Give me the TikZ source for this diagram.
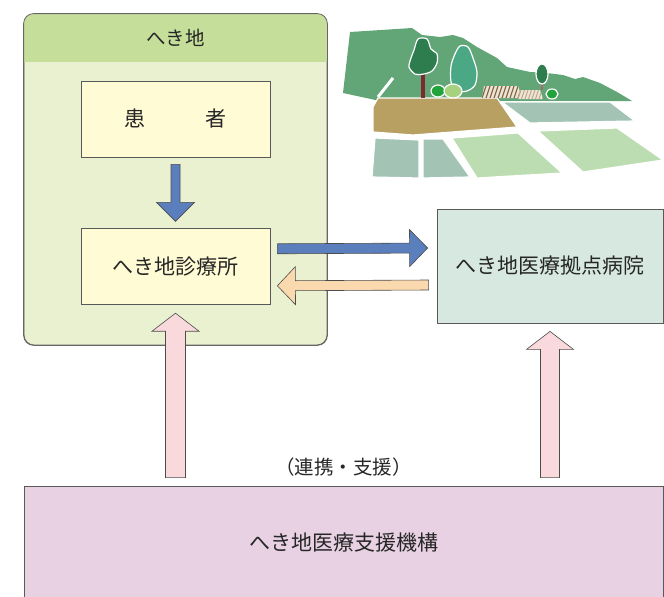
\documentclass[tikz,border=0pt]{standalone}
\usepackage{fontspec}
\setmainfont{Noto Sans CJK JP}
\usetikzlibrary{positioning,calc}
\definecolor{hdrgreen}{HTML}{C5DF9B}
\definecolor{areagreen}{HTML}{EAF1D1}
\definecolor{boxyellow}{HTML}{FFFBD5}
\definecolor{hospgreen}{HTML}{D6E8E0}
\definecolor{orgpink}{HTML}{E8D1E3}
\definecolor{arrblue}{HTML}{5B7EBD}
\definecolor{arrorange}{HTML}{FBD9AF}
\definecolor{arrpink}{HTML}{F9D9DC}
\definecolor{hill}{HTML}{62A677}
\definecolor{soil}{HTML}{B8A062}
\definecolor{paddy}{HTML}{A3C4B4}
\definecolor{meadow}{HTML}{BCDDB1}
\definecolor{pine}{HTML}{2E7D4F}
\definecolor{poplar}{HTML}{4BA885}
\definecolor{bush}{HTML}{22A33B}
\definecolor{bushlight}{HTML}{A6D27F}
\definecolor{bark}{HTML}{7B2B2E}
\definecolor{glass}{HTML}{EDE4D4}
\definecolor{frame}{HTML}{7E6242}
\definecolor{framelight}{HTML}{B9A286}
\tikzset{bigtxt/.style={font=\fontsize{21}{25}\selectfont, text=black!85}}
\tikzset{smalltxt/.style={font=\fontsize{19.5}{23}\selectfont, text=black!85}}
\tikzset{dbox/.style={draw=black!65, line width=0.8pt, inner sep=0pt, bigtxt}}
\tikzset{fat/.style={draw=black!70, line width=0.6pt, line join=miter}}
\tikzset{land/.style={draw=white, line width=1.2pt}}
% block arrow: style, from, to, shaft half-width, head half-width, head length
\newcommand{\fatarrow}[6]{%
  \path (#2) coordinate (fa-s) (#3) coordinate (fa-e) ($(fa-e)!#6!(fa-s)$) coordinate (fa-h);
  \draw[fat, #1] ($(fa-s)!#4!90:(fa-e)$) -- ($(fa-h)!#4!90:(fa-e)$) -- ($(fa-h)!#5!90:(fa-e)$)
    -- (fa-e) -- ($(fa-h)!#5!-90:(fa-e)$) -- ($(fa-h)!#4!-90:(fa-e)$) -- ($(fa-s)!#4!-90:(fa-e)$) -- cycle;}

\begin{document}
\begin{tikzpicture}[x=1pt, y=-1pt]
  \clip (0,0) rectangle (664,597);

  % remote area frame with header band
  \node[draw=black!60, line width=0.8pt, rounded corners=10pt, fill=areagreen,
        minimum width=303pt, minimum height=331pt] (area) at (175.5,179.5) {};
  \begin{scope}
    \clip[rounded corners=10pt] (area.north west) rectangle (area.south east);
    \fill[hdrgreen] (area.north west) rectangle ($(area.north east)+(0,48)$);
  \end{scope}
  \draw[black!60, line width=0.8pt, rounded corners=10pt] (area.north west) rectangle (area.south east);
  \node[smalltxt] (hdr) at ($(area.north)+(0,24)$) {へき地};

  \node[dbox, fill=boxyellow, minimum width=189pt, minimum height=76pt] (pat) at (175.5,119) {患\hspace{2.9em}者};
  \node[dbox, fill=boxyellow, minimum width=189pt, minimum height=76pt, below=71pt of pat] (clinic) {へき地診療所};
  \node[dbox, fill=hospgreen, minimum width=226pt, minimum height=114pt] (hosp) at (550,266) {へき地医療拠点病院};
  \node[dbox, fill=orgpink, minimum width=639pt, minimum height=114pt] (org) at (343.5,543) {へき地医療支援機構};
  \node[smalltxt] (link) at ($(org.north)+(0,-19)$) {（連携・支援）};

  % arrows
  \fatarrow{fill=arrblue}{$(pat.south)+(0,7)$}{$(clinic.north)+(0,-7)$}{4.5pt}{19pt}{19pt}
  \fatarrow{fill=arrblue}{$(clinic.east)+(7,-18)$}{$(hosp.west)+(-9,-18)$}{5pt}{18.5pt}{18pt}
  \fatarrow{fill=arrorange}{$(hosp.west)+(-8,19)$}{$(clinic.east)+(7,19)$}{5pt}{19pt}{18pt}
  \fatarrow{fill=arrpink}{$(clinic.south |- org.north)+(0,-8)$}{$(clinic.south)+(0,8)$}{10pt}{23.5pt}{18pt}
  \fatarrow{fill=arrpink}{$(hosp.south |- org.north)+(0,-8)$}{$(hosp.south)+(0,8)$}{9.5pt}{23.5pt}{18pt}

  % countryside
  \fill[hill] (350,32) -- (412,28) -- (422,35) -- (440,37) -- (453,35) -- (463,38) -- (477,47)
    -- (497,58) -- (507,67) -- (530,72) -- (547,73) -- (563,75) -- (575,79) -- (583,77)
    -- (600,83) -- (617,92) -- (632,101) -- (380,101) -- (343,93) -- cycle;
  \draw[white, line width=3pt] (393,78) -- (378,97);
  \filldraw[land, fill=soil] (378,98) -- (497,98) -- (517,127) -- (413,135) -- (373,132) -- (373,107) -- cycle;
  \filldraw[land, fill=paddy] (502,102) -- (610,102) -- (635,121) -- (530,123) -- cycle;
  \filldraw[land, fill=paddy] (375,138) -- (419,140) -- (419,178) -- (372,177) -- cycle;
  \filldraw[land, fill=paddy] (423,139) -- (443,139) -- (470,177) -- (423,178) -- cycle;
  \filldraw[land, fill=meadow] (452,138) -- (518,133) -- (562,173) -- (477,178) -- cycle;
  \filldraw[land, fill=meadow] (538,131) -- (617,128) -- (663,160) -- (583,172) -- cycle;

  % greenhouses
  \begin{scope}
    \clip (484,86) -- (518,86) -- (522,98) -- (482,98) -- cycle;
    \fill[glass] (480,84) rectangle (524,100);
    \foreach \i in {0,...,9} \draw[frame, line width=1.1pt] (482+4*\i,98) -- (486+4*\i,86);
  \end{scope}
  \begin{scope}
    \clip (520,90) -- (540,90) -- (543,99) -- (518,99) -- cycle;
    \fill[glass] (516,88) rectangle (545,100);
    \foreach \i in {0,...,7} \draw[framelight, line width=0.9pt] (518+3.5*\i,99) -- (521+3.5*\i,90);
  \end{scope}

  % trees and bushes
  \fill[bark] (421,70) rectangle (425,98);
  \filldraw[land, fill=pine] plot[smooth cycle] coordinates
    {(418,39) (427,39) (431,49) (437,54) (437,63) (432,71) (424,74) (415,74) (409,67) (411,58) (414,50)};
  \filldraw[land, fill=poplar] plot[smooth cycle] coordinates
    {(460,46) (468,47) (473,58) (477,72) (475,85) (467,91) (456,91) (451,82) (451,66) (455,54)};
  \fill[bark!70] (541,80) rectangle (543,90);
  \filldraw[land, fill=pine] (542,74) ellipse (6pt and 10pt);
  \filldraw[land, fill=bush] (438,91) ellipse (7pt and 6pt);
  \filldraw[land, fill=bushlight] (453,91) ellipse (9pt and 7pt);
  \filldraw[land, fill=bush] (552,94) ellipse (6pt and 5pt);
\end{tikzpicture}
\end{document}
